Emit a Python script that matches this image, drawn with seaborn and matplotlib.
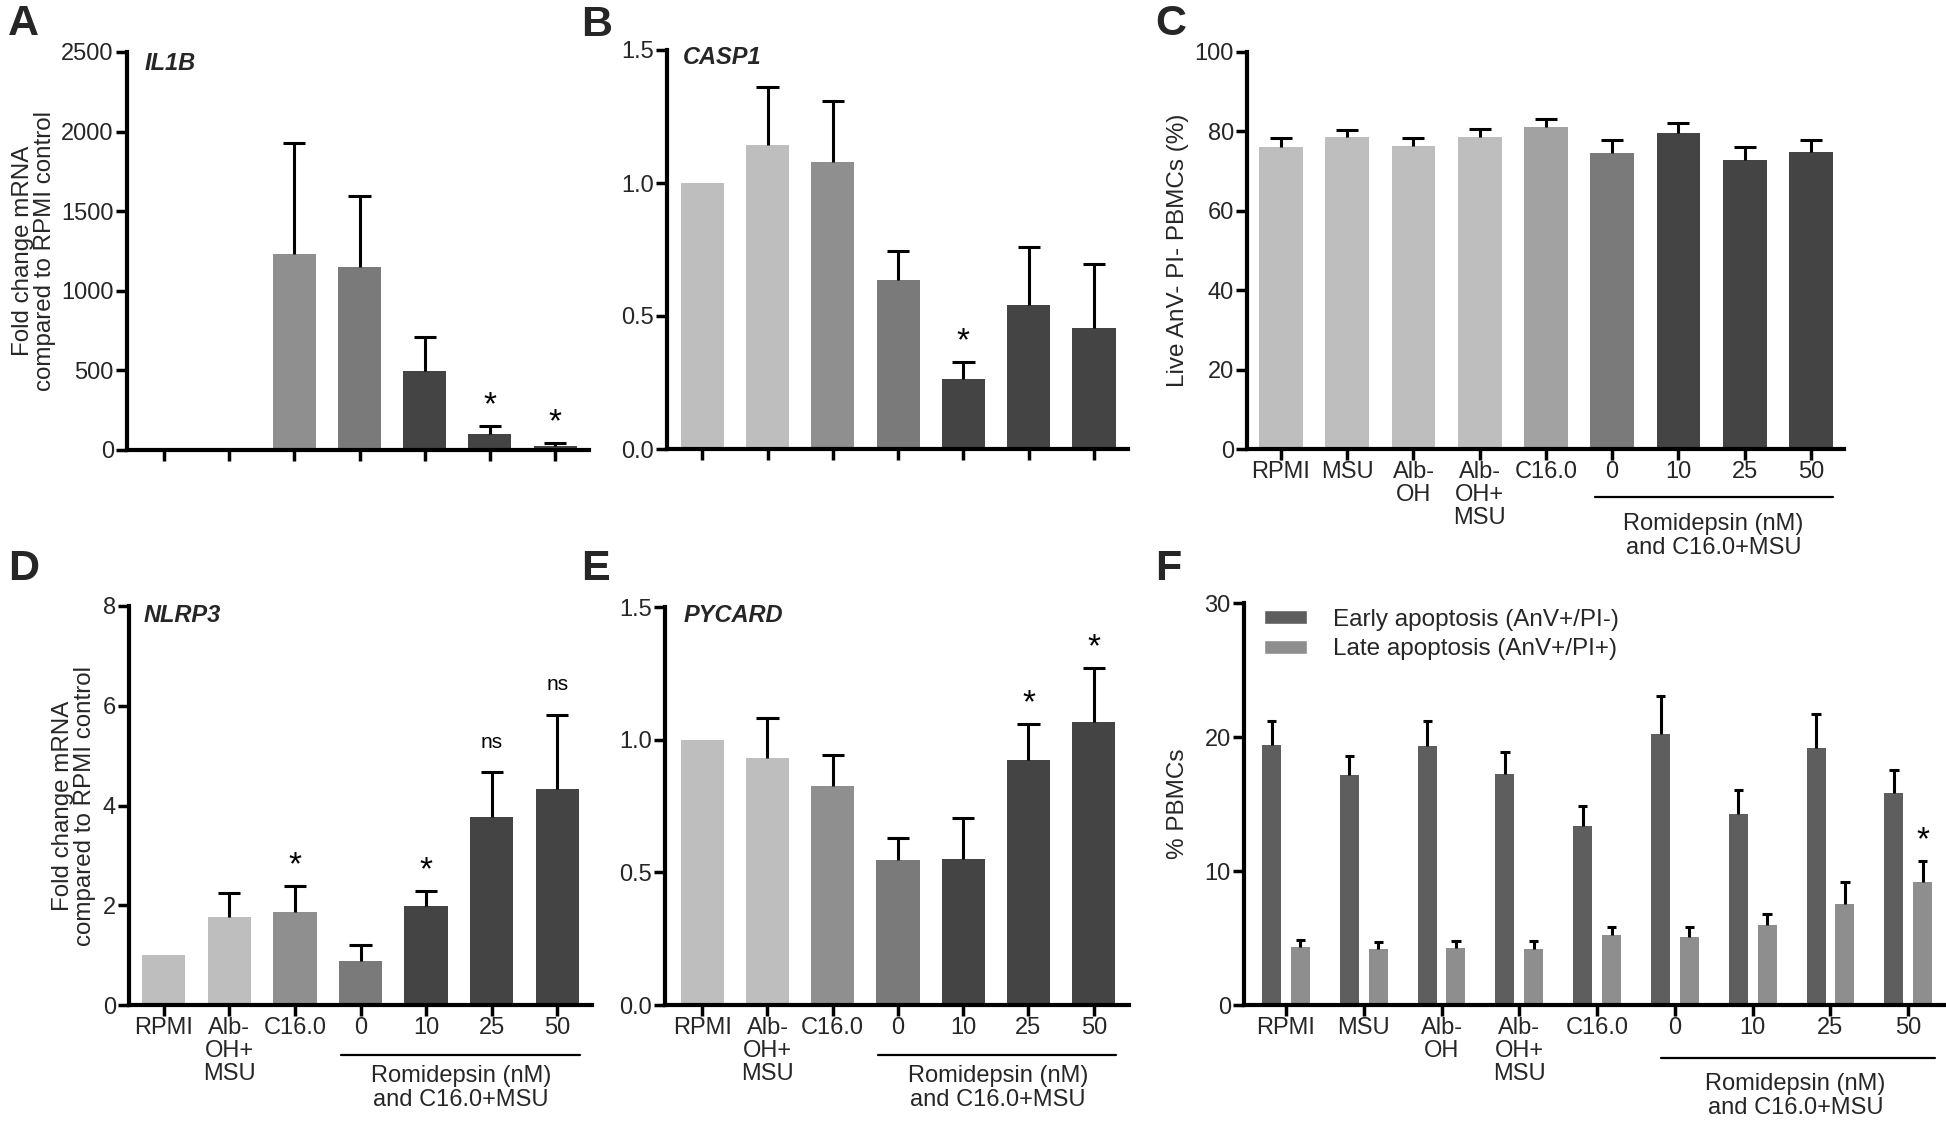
import numpy as np
import pandas as pd
import matplotlib
matplotlib.use("Agg")
import matplotlib.pyplot as plt
import seaborn as sns
from matplotlib.transforms import blended_transform_factory, offset_copy

# categories
cond7 = ["RPMI", "Alb-\nOH+\nMSU", "C16.0", "0", "10", "25", "50"]
cond9 = ["RPMI", "MSU", "Alb-\nOH", "Alb-\nOH+\nMSU", "C16.0", "0", "10", "25", "50"]

# A - IL1B
il1b_mean = [1, 8, 1232, 1149, 495, 101, 27]
il1b_sem = [0, 0, 697, 449, 213, 50, 18]
il1b_sig = ["", "", "", "", "", "*", "*"]

# B - CASP1
casp1_mean = [1.0, 1.144, 1.08, 0.635, 0.265, 0.54, 0.455]
casp1_sem = [0, 0.216, 0.229, 0.108, 0.063, 0.219, 0.239]
casp1_sig = ["", "", "", "", "*", "", ""]

# C - live cells
live_mean = [76.1, 78.6, 76.2, 78.5, 81.2, 74.5, 79.6, 72.9, 74.7]
live_sem = [2.2, 1.8, 2.2, 2.0, 1.8, 3.3, 2.4, 3.2, 3.2]

# D - NLRP3
nlrp3_mean = [1.0, 1.76, 1.86, 0.88, 1.98, 3.77, 4.33]
nlrp3_sem = [0, 0.48, 0.52, 0.32, 0.31, 0.90, 1.49]
nlrp3_sig = ["", "", "*", "", "*", "ns", "ns"]

# E - PYCARD
pycard_mean = [1.0, 0.93, 0.827, 0.546, 0.549, 0.922, 1.067]
pycard_sem = [0, 0.152, 0.115, 0.082, 0.157, 0.136, 0.204]
pycard_sig = ["", "", "", "", "", "*", "*"]

# F - apoptosis
early_mean = [19.40, 17.16, 19.35, 17.26, 13.38, 20.25, 14.23, 19.20, 15.80]
early_sem = [1.77, 1.44, 1.85, 1.62, 1.44, 2.83, 1.79, 2.50, 1.74]
late_mean = [4.30, 4.15, 4.28, 4.20, 5.20, 5.07, 5.97, 7.56, 9.15]
late_sem = [0.53, 0.53, 0.52, 0.60, 0.60, 0.77, 0.80, 1.59, 1.62]
late_sig = ["", "", "", "", "", "", "", "", "*"]
apop_types = ["Early apoptosis (AnV+/PI-)", "Late apoptosis (AnV+/PI+)"]

col7 = ["#bebebe", "#bebebe", "#8f8f8f", "#7a7a7a", "#444444", "#444444", "#444444"]
col9 = ["#bebebe"] * 4 + ["#a2a2a2", "#7a7a7a", "#444444", "#444444", "#444444"]
colF = ["#5e5e5e", "#8e8e8e"]

sns.set_style("ticks")
plt.rcParams['font.family'] = ['Liberation Sans', 'DejaVu Sans']

TICK_FS = 17
W, H = 1946, 1121
fig = plt.figure(figsize=(W / 100, H / 100), dpi=100)


def make_ax(l, t, r, b):
    return fig.add_axes([l / W, 1 - b / H, (r - l) / W, (b - t) / H])


def style_ax(ax, ylim, yticks, xlim, fmt=None):
    ax.set_ylim(*ylim)
    ax.set_yticks(yticks)
    if fmt:
        ax.set_yticklabels([fmt.format(v) for v in yticks])
    ax.set_xlim(*xlim)
    sns.despine(ax=ax)
    for s in ["left", "bottom"]:
        ax.spines[s].set_linewidth(3.0)
        ax.spines[s].set_color("black")
    ax.tick_params(axis="both", length=8, width=2.5, color="black", labelsize=TICK_FS)
    ax.tick_params(axis="y", pad=1.5)
    ax.tick_params(axis="x", pad=0.5)
    ax.set_xlabel("")
    for lab in ax.get_xticklabels():
        lab.set_linespacing(1.05)


def add_err(ax, bars, sems, cap, sig=None):
    for i, (b, e) in enumerate(zip(bars, sems)):
        x = b.get_x() + b.get_width() / 2
        top = b.get_height()
        if e > 0:
            ax.vlines(x, top, top + e, color="black", lw=2.2, zorder=3)
            ax.hlines(top + e, x - cap, x + cap, color="black", lw=2.2, zorder=3)
        if sig and sig[i]:
            s = sig[i]
            tr = offset_copy(ax.transData, fig, y=(8.4 if s == "*" else 17.5), units="points")
            ax.text(x, top + e, s, transform=tr, ha="center", va="baseline",
                    fontsize=(24 if s == "*" else 15), color="black")


def single_bars(ax, cats, means, sems, colors, cap, sig=None):
    sns.barplot(x=cats, y=means, hue=cats, palette=colors, legend=False,
                width=0.66, saturation=1, errorbar=None, ax=ax)
    bars = sorted([p for c in ax.containers for p in c], key=lambda p: p.get_x())
    for b in bars:
        b.set_edgecolor("none")
    add_err(ax, bars, sems, cap, sig)


def bracket(ax, x0, x1, xt, line_px, text_px):
    base = blended_transform_factory(ax.transData, ax.transAxes)
    tl = offset_copy(base, fig, y=-line_px, units="dots")
    ax.plot([x0, x1], [0, 0], transform=tl, color="black", lw=1.6, clip_on=False)
    tt = offset_copy(base, fig, y=-text_px, units="dots")
    ax.text(xt, 0, "Romidepsin (nM)\nand C16.0+MSU", transform=tt,
            ha="center", va="center", fontsize=TICK_FS, linespacing=1.07)


def gene(ax, x, y, name):
    ax.text(x, y, name, transform=ax.transAxes, fontsize=17, fontweight="bold",
            fontstyle="italic", ha="left", va="center")


ylab = "Fold change mRNA\ncompared to RPMI control"

axA = make_ax(127, 52, 589, 450)
axB = make_ax(667, 50, 1128, 449)
axC = make_ax(1247, 52, 1844, 449)
axD = make_ax(129, 606, 592, 1005)
axE = make_ax(665, 607, 1129, 1005)
axF = make_ax(1244, 603, 1944, 1005)

# A
single_bars(axA, cond7, il1b_mean, il1b_sem, col7, 0.17, il1b_sig)
style_ax(axA, (0, 2500), [0, 500, 1000, 1500, 2000, 2500], (-0.567, 6.52))
axA.set_xticklabels([])
axA.set_ylabel(ylab, fontsize=17.4, linespacing=1.02)
axA.yaxis.set_label_coords(-0.154, 0.5)
gene(axA, 0.037, 0.971, "IL1B")

# B
single_bars(axB, cond7, casp1_mean, casp1_sem, col7, 0.17, casp1_sig)
style_ax(axB, (0, 1.5), [0, 0.5, 1.0, 1.5], (-0.54, 6.52), fmt="{:.1f}")
axB.set_xticklabels([])
gene(axB, 0.035, 0.98, "CASP1")

# C
single_bars(axC, cond9, live_mean, live_sem, col9, 0.166)
style_ax(axC, (0, 100), [0, 20, 40, 60, 80, 100], (-0.513, 8.5))
axC.set_ylabel("Live AnV- PI- PBMCs (%)", fontsize=17.5)
axC.yaxis.set_label_coords(-0.097, 0.5)
bracket(axC, 4.74, 8.33, 6.53, 48, 87)

# D
single_bars(axD, cond7, nlrp3_mean, nlrp3_sem, col7, 0.17, nlrp3_sig)
style_ax(axD, (0, 8), [0, 2, 4, 6, 8], (-0.53, 6.53))
axD.set_ylabel(ylab, fontsize=17.4, linespacing=1.02)
axD.yaxis.set_label_coords(-0.071, 0.5)
gene(axD, 0.032, 0.976, "NLRP3")
bracket(axD, 2.7, 6.35, 4.53, 50, 83)

# E
single_bars(axE, cond7, pycard_mean, pycard_sem, col7, 0.17, pycard_sig)
style_ax(axE, (0, 1.5), [0, 0.5, 1.0, 1.5], (-0.57, 6.54), fmt="{:.1f}")
gene(axE, 0.041, 0.979, "PYCARD")
bracket(axE, 2.7, 6.34, 4.53, 50, 83)

# F
apop = pd.DataFrame({
    "cond": cond9 * 2,
    "type": [apop_types[0]] * len(cond9) + [apop_types[1]] * len(cond9),
    "value": early_mean + late_mean,
})
sns.barplot(data=apop, x="cond", y="value", hue="type", palette=colF,
            width=0.74, gap=0.34, saturation=1, errorbar=None, ax=axF)
for cont, sems, sig in zip(axF.containers, [early_sem, late_sem], [None, late_sig]):
    bars = sorted(list(cont), key=lambda p: p.get_x())
    for b in bars:
        b.set_edgecolor("none")
    add_err(axF, bars, sems, 0.06, sig)
style_ax(axF, (0, 30), [0, 10, 20, 30], (-0.54, 8.46))
axF.set_ylabel("% PBMCs", fontsize=17.5)
axF.yaxis.set_label_coords(-0.079, 0.5)
sns.move_legend(axF, "upper left", bbox_to_anchor=(0.0286, 0.985), title=None,
                frameon=False, borderpad=0, borderaxespad=0, handlelength=1.77,
                handleheight=0.52, handletextpad=1.07, labelspacing=0.3,
                fontsize=17.5)
bracket(axF, 4.82, 8.35, 6.55, 53, 91)

# panel letters
for txt, x, y in [("A", 8, 35), ("B", 581, 36), ("C", 1155, 35),
                  ("D", 8, 580), ("E", 581, 580), ("F", 1155, 580)]:
    fig.text(x / W, 1 - y / H, txt, fontsize=31, fontweight="bold",
             va="baseline", ha="left")

fig.savefig("out.png", dpi=100)
